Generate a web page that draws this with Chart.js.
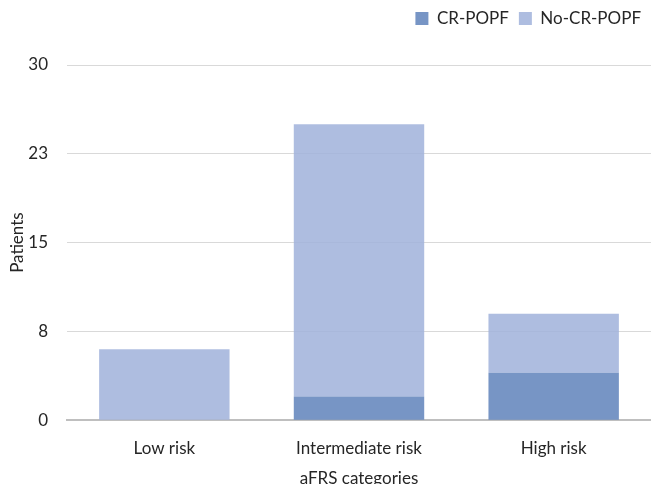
<!DOCTYPE html>
<html>
<head>
<meta charset="utf-8">
<script src="https://cdn.jsdelivr.net/npm/chart.js@4"></script>
<style>
  html, body { margin: 0; padding: 0; background: #fff; overflow: hidden; }
  #wrap { width: 651px; height: 493px; }
</style>
</head>
<body>
<div id="wrap"><canvas id="popfChart" width="651" height="493"></canvas></div>
<script>
// values
var categories = ["Low risk", "Intermediate risk", "High risk"];
var crPopf = [0, 2, 4];
var noCrPopf = [6, 23, 5];
var tickLabels = ["0", "8", "15", "23", "30"];

var font = "Lato, 'Open Sans', sans-serif";
var textColor = '#262626';

var data = {
  labels: categories,
  datasets: [{
    label: "CR-POPF",
    data: crPopf,
    backgroundColor: "rgba(95,130,187,0.85)",
    barPercentage: 0.67,
    categoryPercentage: 1
  }, {
    label: "No-CR-POPF",
    data: noCrPopf,
    backgroundColor: "rgba(160,177,219,0.85)",
    barPercentage: 0.67,
    categoryPercentage: 1
  }]
};

// push the plot down below the legend
var legendGap = {
  id: 'legendGap',
  beforeInit: function (chart) {
    var fit = chart.legend.fit;
    chart.legend.fit = function () {
      fit.bind(chart.legend)();
      this.height += 28;
    };
  }
};

var options = {
  responsive: false,
  animation: false,
  layout: { padding: 0 },
  plugins: {
    legend: {
      position: 'top',
      align: 'end',
      labels: {
        boxWidth: 13,
        boxHeight: 13,
        padding: 10,
        color: textColor,
        font: { family: font, size: 17 }
      }
    },
    tooltip: { enabled: false }
  },
  scales: {
    x: {
      stacked: true,
      grid: { display: false },
      border: { color: '#bfbfbf', width: 2 },
      ticks: { color: textColor, font: { family: font, size: 17 }, padding: 10 },
      title: { display: true, text: 'aFRS categories', color: textColor, font: { family: font, size: 17 }, padding: { top: 0 } }
    },
    y: {
      stacked: true,
      min: 0,
      max: 30,
      afterFit: function (scale) { scale.width = 67; },
      grid: { color: '#d9d9d9', drawTicks: false },
      border: { display: false },
      ticks: {
        stepSize: 7.5,
        padding: 19,
        color: textColor,
        font: { family: font, size: 17 },
        callback: function (v, i) { return tickLabels[i]; }
      },
      title: { display: true, text: 'Patients', color: textColor, font: { family: font, size: 17 }, padding: { top: 7, bottom: 0 } }
    }
  }
};

var ctx = document.getElementById("popfChart");
new Chart(ctx, { type: 'bar', data: data, options: options, plugins: [legendGap] });
</script>
</body>
</html>
